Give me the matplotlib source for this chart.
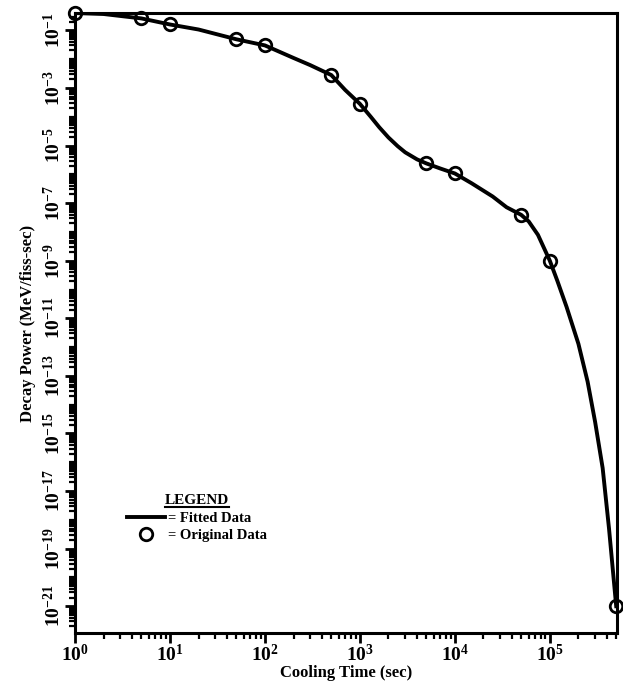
import numpy as np
import matplotlib
matplotlib.use("Agg")
import matplotlib.pyplot as plt
from matplotlib.ticker import FixedLocator, LogLocator, NullFormatter
from matplotlib.lines import Line2D

plt.rcParams["font.family"] = ["Liberation Serif", "DejaVu Serif"]
plt.rcParams["font.weight"] = "bold"
plt.rcParams["mathtext.fontset"] = "custom"
plt.rcParams["mathtext.rm"] = "Liberation Serif:bold"
plt.rcParams["mathtext.bf"] = "Liberation Serif:bold"

# original data (cooling time in s, decay power in MeV/fiss-sec)
t_orig = [1, 5, 10, 50, 100, 500, 1000, 5000, 1e4, 5e4, 1e5, 5e5]
p_orig = [4.0e-1, 2.6e-1, 1.6e-1, 4.9e-2, 3.0e-2, 2.8e-3, 2.8e-4,
          2.4e-6, 1.07e-6, 3.9e-8, 1.0e-9, 1.0e-21]

# fitted curve
t_fit = [1, 2, 5, 10, 20, 50, 100, 200, 300, 500, 700, 1000, 1300, 1600,
         2000, 2500, 3000, 4000, 5000, 7000, 1e4, 1.5e4, 2.5e4, 3.5e4, 5e4,
         6e4, 7.5e4, 1e5, 1.2e5, 1.5e5, 2e5, 2.5e5, 3e5, 3.6e5, 4.2e5, 5e5]
p_fit = [4.0e-1, 3.7e-1, 2.6e-1, 1.6e-1, 1.07e-1, 4.9e-2, 3.0e-2, 1.1e-2,
         6.2e-3, 2.8e-3, 8.5e-4, 2.8e-4, 1.0e-4, 4.3e-5, 1.9e-5, 9.5e-6,
         5.8e-6, 3.3e-6, 2.4e-6, 1.6e-6, 1.07e-6, 4.9e-7, 1.7e-7, 7.2e-8,
         3.9e-8, 2.3e-8, 7.9e-9, 1.0e-9, 2.0e-10, 2.5e-11, 1.3e-12, 6.3e-14,
         2.5e-15, 6.3e-17, 5.0e-19, 1.0e-21]

y_exps = [-1, -3, -5, -7, -9, -11, -13, -15, -17, -19, -21]
x_exps = [0, 1, 2, 3, 4, 5]

fig = plt.figure(figsize=(6.23, 6.85), dpi=100)
ax = fig.add_axes([0.1204, 0.0759, 0.870, 0.905])

ax.plot(t_fit, p_fit, color="black", lw=2.8, label="= Fitted Data")
ax.plot(t_orig, p_orig, "o", mfc="none", mec="black", ms=9, mew=2,
        clip_on=False, zorder=5, label="= Original Data")

ax.set_xscale("log")
ax.set_yscale("log")
ax.set_xlim(1, 5.1e5)
ax.set_ylim(10 ** -21.93, 10 ** -0.4)

ax.xaxis.set_major_locator(FixedLocator([10.0 ** e for e in x_exps]))
ax.set_xticklabels([r"$\mathbf{10^{%d}}$" % e for e in x_exps], fontsize=14)
ax.xaxis.set_minor_locator(LogLocator(base=10, subs=np.arange(2, 10)))
ax.xaxis.set_minor_formatter(NullFormatter())

ax.yaxis.set_major_locator(FixedLocator([10.0 ** e for e in y_exps]))
ax.set_yticklabels([r"$\mathbf{10^{%d}}$" % e for e in y_exps], fontsize=14,
                   rotation=90, va="center")
ax.yaxis.set_minor_locator(LogLocator(base=10, subs=np.arange(1, 10), numticks=40))
ax.yaxis.set_minor_formatter(NullFormatter())

ax.tick_params(which="major", direction="out", length=7, width=2, pad=1)
ax.tick_params(which="minor", direction="out", length=4, width=1.6)
for s in ax.spines.values():
    s.set_linewidth(2.2)

ax.set_xlabel("Cooling Time (sec)", fontsize=12, fontweight="bold", labelpad=0)
ax.set_ylabel("Decay Power (MeV/fiss-sec)", fontsize=12, fontweight="bold", labelpad=5)

leg = ax.legend(loc="center", bbox_to_anchor=(0.225, 0.185), frameon=False,
                title="LEGEND", prop={"size": 10.5, "weight": "bold"},
                handlelength=2.6, handletextpad=0.15, labelspacing=0.3,
                borderpad=0.1)
leg.get_title().set_fontsize(11)
leg.get_title().set_fontweight("bold")

# underline the legend title
fig.canvas.draw()
bb = leg.get_title().get_window_extent().transformed(fig.transFigure.inverted())
fig.add_artist(Line2D([bb.x0, bb.x1], [bb.y0 + 0.001, bb.y0 + 0.001],
                      color="black", lw=1.5, transform=fig.transFigure))

fig.savefig("out.png", dpi=100)
